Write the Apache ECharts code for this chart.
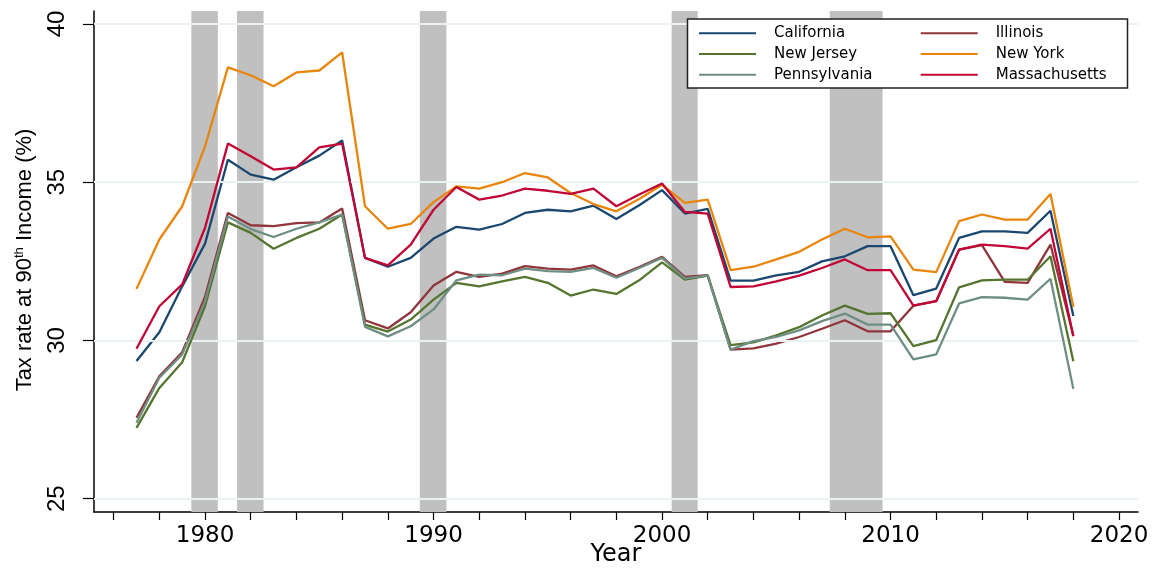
<!DOCTYPE html>
<html><head><meta charset="utf-8">
<script src="https://cdn.jsdelivr.net/npm/echarts@6/dist/echarts.min.js"></script>
<style>html,body{margin:0;padding:0;background:#fff}#c{width:1158px;height:568px}</style>
</head><body><div id="c"></div>
<script>
const years = [1977,1978,1979,1980,1981,1982,1983,1984,1985,1986,
  1987,1988,1989,1990,1991,1992,1993,1994,1995,1996,
  1997,1998,1999,2000,2001,2002,2003,2004,2005,2006,
  2007,2008,2009,2010,2011,2012,2013,2014,2015,2016,
  2017,2018];

const california = [29.35,30.26,31.71,33.06,35.71,35.24,35.08,35.47,35.84,36.32,
  32.61,32.33,32.61,33.22,33.59,33.50,33.68,34.03,34.13,34.08,
  34.26,33.84,34.27,34.75,34.01,34.16,31.89,31.89,32.06,32.17,
  32.50,32.66,32.98,32.98,31.43,31.64,33.24,33.45,33.45,33.40,
  34.10,30.77];
const illinois = [27.56,28.87,29.63,31.38,34.03,33.64,33.61,33.71,33.73,34.17,
  30.64,30.38,30.89,31.74,32.17,32.01,32.11,32.35,32.27,32.24,
  32.37,32.03,32.32,32.64,32.01,32.06,29.71,29.75,29.90,30.11,
  30.37,30.64,30.29,30.29,31.10,31.24,32.87,33.01,31.85,31.82,
  33.03,30.15];
const newJersey = [27.24,28.50,29.31,31.08,33.73,33.40,32.90,33.24,33.53,33.98,
  30.50,30.28,30.66,31.29,31.82,31.71,31.87,32.01,31.82,31.42,
  31.61,31.47,31.90,32.47,31.92,32.05,29.85,29.94,30.16,30.42,
  30.79,31.10,30.84,30.86,29.82,30.01,31.68,31.90,31.92,31.92,
  32.66,29.34];
const newYork = [31.63,33.19,34.24,36.13,38.63,38.38,38.03,38.47,38.53,39.10,
  34.24,33.53,33.68,34.37,34.87,34.80,35.00,35.29,35.15,34.66,
  34.31,34.08,34.47,34.92,34.35,34.45,32.22,32.33,32.56,32.80,
  33.19,33.53,33.26,33.29,32.24,32.16,33.77,33.98,33.82,33.82,
  34.63,31.06];
const pennsylvania = [27.40,28.82,29.56,31.24,33.92,33.52,33.27,33.53,33.73,33.98,
  30.43,30.13,30.45,30.98,31.90,32.08,32.06,32.27,32.19,32.17,
  32.29,31.98,32.29,32.61,31.96,32.05,29.71,29.98,30.11,30.32,
  30.61,30.85,30.50,30.50,29.40,29.56,31.17,31.37,31.35,31.29,
  31.95,28.47];
const massachusetts = [29.74,31.08,31.77,33.56,36.22,35.82,35.40,35.47,36.10,36.22,
  32.61,32.37,33.03,34.13,34.85,34.45,34.58,34.80,34.73,34.63,
  34.80,34.24,34.61,34.96,34.06,34.01,31.69,31.71,31.87,32.05,
  32.29,32.56,32.22,32.22,31.10,31.24,32.87,33.03,32.98,32.90,
  33.53,30.13];

const recessions = [[1979.4,1980.56],[1981.4,1982.56],[1989.4,1990.56],[2000.42,2001.56],[2007.34,2009.65]];
const xTicks = [1976,1978,1980,1982,1984,1986,1988,1990,1992,1994,1996,1998,2000,2002,2004,2006,2008,2010,2012,2014,2016,2018,2020];
const xLabels = [1980,1990,2000,2010,2020];
const yTicks = [25,30,35,40];

const states = [
  ['California', california, '#1a476f'],
  ['Illinois', illinois, '#90353b'],
  ['New Jersey', newJersey, '#55752f'],
  ['New York', newYork, '#e8850a'],
  ['Pennsylvania', pennsylvania, '#6e8e84'],
  ['Massachusetts', massachusetts, '#c10534']
];

const chart = echarts.init(document.getElementById('c'), null, {renderer:'canvas'});
const series = [
  {type:'line', name:'_grid', data:[], z:1, silent:true,
   markLine:{silent:true, symbol:'none', label:{show:false}, animation:false,
     lineStyle:{color:'#eaf2f3', width:2, type:'solid'},
     data: yTicks.map(v=>({yAxis:v}))}},
  {type:'line', name:'_rec', data:[], z:2, silent:true,
   markArea:{silent:true, animation:false, itemStyle:{color:'#c0c0c0', opacity:1},
     data: recessions.map(r=>[{xAxis:r[0]},{xAxis:r[1]}])}}
];
states.forEach((s,k)=>{
  series.push({type:'line', name:s[0], z:3+k, symbol:'none', showSymbol:false,
    lineStyle:{color:s[2], width:2.3}, itemStyle:{color:s[2]},
    data: years.map((y,i)=>[y, s[1][i]])});
});

const legendCommon = {orient:'vertical', top:20.3, padding:5, icon:'rect', itemWidth:57, itemHeight:2, itemGap:4.7, z:20,
  textStyle:{fontFamily:'DejaVu Sans', fontSize:15, lineHeight:16, color:'#000', padding:[0,0,0,13]},
  selectedMode:false};

chart.setOption({
  animation:false,
  backgroundColor:'#fff',
  textStyle:{fontFamily:'DejaVu Sans'},
  grid:{left:94, right:20, top:11, bottom:56, containLabel:false, outerBoundsMode:'none'},
  xAxis:{type:'value', min:1975.14, max:2020.83,
    axisLine:{show:true, onZero:false, lineStyle:{color:'#000', width:1.5}},
    axisTick:{show:true, inside:false, length:8, lineStyle:{color:'#000', width:1.2}, customValues:xTicks},
    axisLabel:{show:true, customValues:xLabels, margin:13, fontSize:23, color:'#000', fontFamily:'DejaVu Sans',
      formatter:function(v){return String(Math.round(v));}},
    splitLine:{show:false}},
  yAxis:{type:'value', min:24.58, max:40.41,
    axisLine:{show:true, onZero:false, lineStyle:{color:'#000', width:1.5}},
    axisTick:{show:true, inside:false, length:11, lineStyle:{color:'#000', width:1.2}, customValues:yTicks},
    axisLabel:{show:true, customValues:yTicks, rotate:90, margin:25, fontSize:24, color:'#000', fontFamily:'Liberation Sans',
      formatter:function(v){return String(Math.round(v));}},
    splitLine:{show:false}},
  legend:[
    Object.assign({}, legendCommon, {left:694, data:['California','New Jersey','Pennsylvania']}),
    Object.assign({}, legendCommon, {left:915.7, data:['Illinois','New York','Massachusetts']})
  ],
  graphic:[
    {type:'rect', z:15, shape:{x:687.5, y:19, width:440, height:69},
     style:{fill:'#fff', stroke:'#222', lineWidth:1.5}},
    {type:'text', x:616, y:555, z:10,
     style:{text:'Year', fontFamily:'DejaVu Sans', fontSize:24, fill:'#000',
       textAlign:'center', textVerticalAlign:'middle', align:'center', verticalAlign:'middle'}},
    {type:'text', x:25, y:260, rotation:Math.PI/2, z:10,
     style:{x:0, y:0, text:'{a|Tax rate at 90}{s|th}{a| Income (%)}',
       textAlign:'center', textVerticalAlign:'middle', align:'center', verticalAlign:'middle',
       rich:{a:{fontFamily:'Liberation Sans', fontSize:22, fill:'#000', color:'#000', lineHeight:24},
             s:{fontFamily:'Liberation Sans', fontSize:13, fill:'#000', color:'#000', verticalAlign:'top', lineHeight:24, padding:[0,0,10,0]}}}}
  ],
  series: series
});
</script></body></html>
